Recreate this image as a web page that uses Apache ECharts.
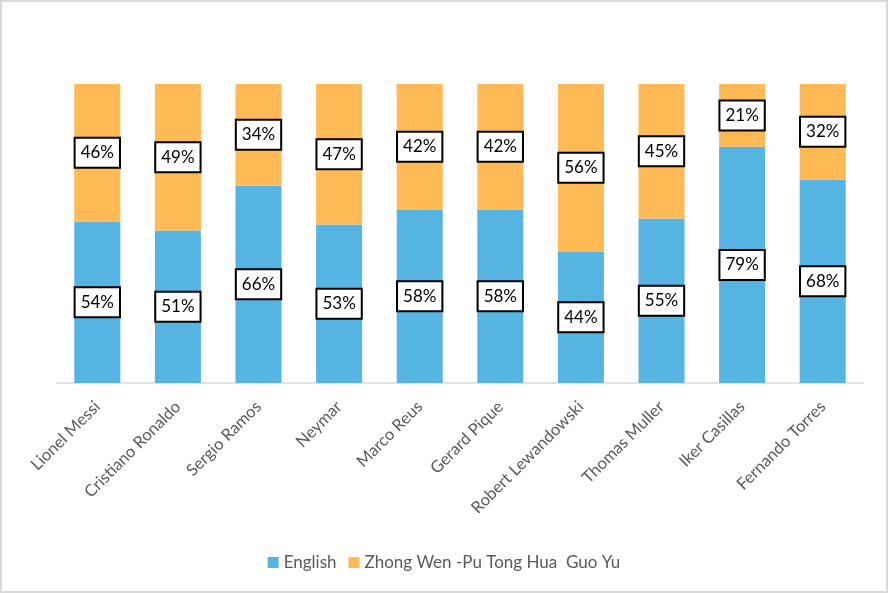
<!DOCTYPE html>
<html><head><meta charset="utf-8">
<script src="https://cdn.jsdelivr.net/npm/echarts@6/dist/echarts.min.js"></script>
<style>
html,body{margin:0;padding:0;background:#fff;}
#wrap{width:888px;height:593px;box-sizing:border-box;border:2px solid #d9d9d9;position:relative;}
#c{position:absolute;left:-2px;top:-2px;width:888px;height:593px;}
</style></head>
<body><div id="wrap"><div id="c"></div></div>
<script>
const categories = ['Lionel Messi','Cristiano Ronaldo','Sergio Ramos','Neymar','Marco Reus','Gerard Pique','Robert Lewandowski','Thomas Muller','Iker Casillas','Fernando Torres'];
const english = [54,51,66,53,58,58,44,55,79,68];
const zhongwen = [46,49,34,47,42,42,56,45,21,32];
const seriesNames = ['English','Zhong Wen -Pu Tong Hua  Guo Yu'];

const FONT = 'Lato, "Open Sans", sans-serif';
const labelStyle = {
  show: true, position: 'inside', formatter: '{c}%',
  color: '#000', fontSize: 17, fontFamily: FONT,
  backgroundColor: '#fff', borderColor: '#000', borderWidth: 2,
  padding: [6, 5, 5, 5]
};
const chart = echarts.init(document.getElementById('c'), null, {renderer:'canvas'});
chart.setOption({
  animation: false,
  grid: {left: 57, right: 25, top: 84, bottom: 210, containLabel: false},
  legend: {
    bottom: 17, left: 'center', itemWidth: 11, itemHeight: 11, itemGap: 12,
    icon: 'rect',
    textStyle: {color: '#595959', fontSize: 17, fontFamily: FONT},
    data: seriesNames
  },
  xAxis: {
    type: 'category', data: categories,
    axisLine: {lineStyle: {color: '#d9d9d9', width: 1.5}},
    axisTick: {show: false},
    axisLabel: {rotate: 45, color: '#595959', fontSize: 16.5, fontFamily: FONT, margin: 21, interval: 0}
  },
  yAxis: {type: 'value', min: 0, max: 100, show: false, splitLine: {show: false}},
  series: [
    {name: seriesNames[0], type: 'bar', stack: 's', data: english, barWidth: 46,
     itemStyle: {color: '#56B4E3'}, label: labelStyle},
    {name: seriesNames[1], type: 'bar', stack: 's', data: zhongwen, barWidth: 46,
     itemStyle: {color: '#FFB955'}, label: labelStyle}
  ]
});
</script></body></html>
